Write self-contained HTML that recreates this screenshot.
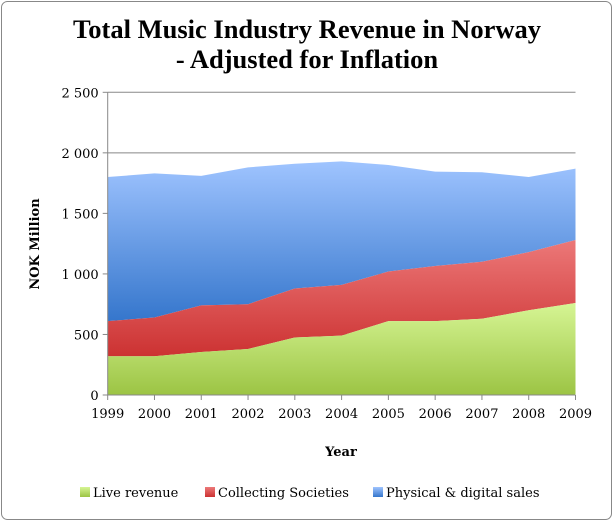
<!DOCTYPE html>
<html><head><meta charset="utf-8"><style>
body{margin:0;background:#fff;}
svg{display:block;font-family:"Liberation Serif",serif;}
.s{font-family:"DejaVu Serif",serif;}
</style></head><body>
<svg width="614" height="523" viewBox="0 0 614 523">
<defs>
<linearGradient id="gB" x1="0" y1="0" x2="0" y2="1"><stop offset="0" stop-color="#9fc4ff"/><stop offset="1" stop-color="#3576cc"/></linearGradient>
<linearGradient id="gR" x1="0" y1="0" x2="0" y2="1"><stop offset="0" stop-color="#ec7878"/><stop offset="1" stop-color="#cc3232"/></linearGradient>
<linearGradient id="gG" x1="0" y1="0" x2="0" y2="1"><stop offset="0" stop-color="#d6f594"/><stop offset="1" stop-color="#9cc444"/></linearGradient>
</defs>
<rect x="1.5" y="1.5" width="610" height="518" rx="6" fill="#fff" stroke="#888"/>
<text x="307" y="38" text-anchor="middle" font-size="26.5" font-weight="bold">Total Music Industry Revenue in Norway</text>
<text x="307" y="68" text-anchor="middle" font-size="26.5" font-weight="bold">- Adjusted for Inflation</text>
<g id="plot" class="s"></g>
<text class="s" x="39" y="244" text-anchor="middle" font-size="13" font-weight="bold" transform="rotate(-90 39 244)">NOK Million</text>
<text class="s" x="341" y="456" text-anchor="middle" font-size="13" font-weight="bold">Year</text>
<g class="s" font-size="13">
<g><rect x="80" y="487" width="10" height="10" fill="url(#gG)"/><text x="93" y="497">Live revenue</text></g>
<g><rect x="205" y="487" width="10" height="10" fill="url(#gR)"/><text x="218" y="497">Collecting Societies</text></g>
<g><rect x="373" y="487" width="10" height="10" fill="url(#gB)"/><text x="386" y="497">Physical &amp; digital sales</text></g>
</g>
</svg>
<script>
const years=[1999,2000,2001,2002,2003,2004,2005,2006,2007,2008,2009];
const live=[320,320,355,380,475,490,610,610,630,700,760];
const collecting=[290,320,385,370,405,420,410,455,470,480,520];
const physical=[1190,1190,1070,1130,1030,1020,880,780,740,620,590];
const yTicks=[0,500,1000,1500,2000,2500];
const yTickLabels=["0","500","1 000","1 500","2 000","2 500"];
const X0=107.7,X1=575.5,Y0=395,Y1=92.3;
const xs=i=>X0+(X1-X0)*i/(years.length-1);
const ys=v=>Y0-(Y0-Y1)*v/2500;
const NS="http://www.w3.org/2000/svg";
const plot=document.getElementById('plot');
function mk(t,a,p){const e=document.createElementNS(NS,t);for(const k in a)e.setAttribute(k,a[k]);(p||plot).appendChild(e);return e;}
yTicks.forEach((v,i)=>{
  if(v>0){const l=mk('line',{x1:X0,x2:X1,y1:ys(v),y2:ys(v),stroke:'#888','stroke-width':1});
  
  }
  const tk=mk('line',{x1:X0-5,x2:X0,y1:ys(v),y2:ys(v),stroke:'#888'});
  
  
  const t=mk('text',{x:X0-9,y:ys(v)+5,'text-anchor':'end','font-size':13});
  t.textContent=yTickLabels[i];
  
  
});
const s1=live, s2=live.map((v,i)=>v+collecting[i]), s3=s2.map((v,i)=>v+physical[i]);
function area(top,bot,fill,name){
  let d='M'+years.map((_,i)=>xs(i)+','+ys(top[i])).join('L');
  for(let i=years.length-1;i>=0;i--)d+='L'+xs(i)+','+ys(bot?bot[i]:0);
  const p=mk('path',{d:d+'Z',fill:fill});
  
  
}
area(s3,s2,'url(#gB)','area-physical-digital');
area(s2,s1,'url(#gR)','area-collecting-societies');
area(s1,null,'url(#gG)','area-live-revenue');
mk('line',{x1:X0,x2:X0,y1:Y1,y2:Y0,stroke:'#888'});
mk('line',{x1:X0,x2:X1,y1:Y0,y2:Y0,stroke:'#888'});
years.forEach((y,i)=>{
  const tk=mk('line',{x1:xs(i),x2:xs(i),y1:Y0,y2:Y0+5,stroke:'#888'});
  
  
  const t=mk('text',{x:xs(i),y:Y0+23,'text-anchor':'middle','font-size':13});
  t.textContent=y;
  
  
});
</script>
</body></html>
